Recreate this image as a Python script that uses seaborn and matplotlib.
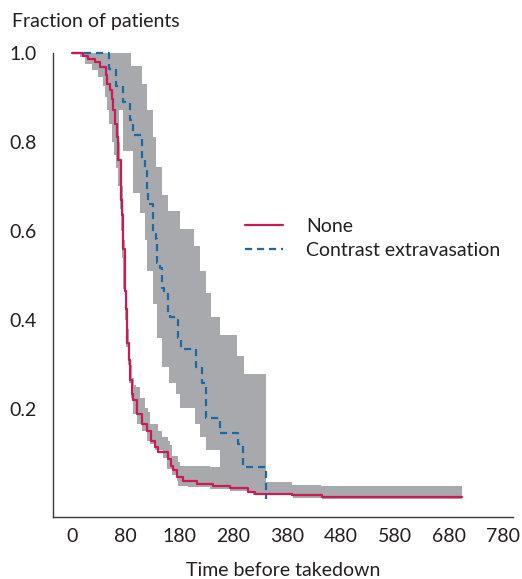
import numpy as np
import pandas as pd
import matplotlib
matplotlib.use("Agg")
import matplotlib.pyplot as plt
import seaborn as sns

# ---------------- data ----------------
x_tick_pos = [0, 100, 200, 300, 400, 500, 600, 700, 800]
x_tick_labels = ["0", "80", "180", "280", "380", "480", "580", "680", "780"]
y_tick_pos = [0.2, 0.4, 0.6, 0.8, 1.0]
y_tick_labels = ["0.2", "0.4", "0.6", "0.8", "1.0"]

series_names = ["None", "Contrast extravasation"]

# "None" group survival (step, post)
none_t = [0, 21, 30, 43, 52, 64, 66, 71, 75, 77, 80, 84, 86, 91, 93, 96, 98, 100, 102, 106,
          109, 112, 114, 121, 130, 139, 148, 155, 161, 179, 185, 188, 195, 207, 232, 263, 294,
          327, 340, 408, 464, 725]
none_s = [1.0, 0.993, 0.985, 0.978, 0.968, 0.95, 0.93, 0.915, 0.895, 0.87, 0.84, 0.81, 0.76,
          0.67, 0.635, 0.56, 0.466, 0.426, 0.348, 0.31, 0.265, 0.235, 0.22, 0.19, 0.167, 0.152,
          0.13, 0.115, 0.104, 0.089, 0.074, 0.063, 0.048, 0.040, 0.033, 0.029, 0.024, 0.014,
          0.010, 0.0075, 0.003, 0.003]
none_up_t = [0, 66, 72, 78, 82, 85, 87, 90, 93, 95, 97, 99, 101, 103, 106, 109, 112, 116, 119,
             127, 136, 142, 145, 161, 167, 179, 182, 186, 198, 201, 257, 275, 300, 408, 463, 725]
none_up = [1.0, 0.99, 0.97, 0.95, 0.92, 0.88, 0.80, 0.76, 0.70, 0.64, 0.58, 0.50, 0.44, 0.38,
           0.34, 0.30, 0.27, 0.255, 0.249, 0.226, 0.204, 0.193, 0.168, 0.152, 0.137, 0.13, 0.119,
           0.096, 0.081, 0.074, 0.07, 0.063, 0.037, 0.031, 0.029, 0.029]
none_lo_t = [0, 15, 25, 38, 48, 58, 62, 66, 70, 74, 78, 83, 85, 89, 91, 94, 96, 98, 100, 104,
             107, 110, 114, 121, 130, 139, 145, 155, 170, 176, 186, 195, 198, 216, 257, 294, 331,
             337, 410, 464, 725]
none_lo = [1.0, 0.99, 0.975, 0.96, 0.945, 0.925, 0.90, 0.87, 0.84, 0.80, 0.77, 0.74, 0.70,
           0.65, 0.60, 0.54, 0.47, 0.40, 0.34, 0.30, 0.26, 0.225, 0.19, 0.168, 0.152, 0.13, 0.123,
           0.108, 0.092, 0.067, 0.052, 0.04, 0.029, 0.025, 0.022, 0.018, 0.016, 0.007, 0.002,
           0.0, 0.0]

# "Contrast extravasation" group survival
con_t = [0, 70, 82, 96, 108, 114, 130, 136, 139, 142, 151, 156, 159, 164, 167, 171, 179, 182,
         194, 198, 202, 230, 241, 250, 275, 309, 318, 360.5]
con_s = [1.0, 0.962, 0.926, 0.888, 0.848, 0.814, 0.76, 0.735, 0.69, 0.66, 0.594, 0.583, 0.527,
         0.518, 0.473, 0.46, 0.415, 0.406, 0.40, 0.36, 0.336, 0.294, 0.258, 0.18, 0.146, 0.123,
         0.07, 0.0]
con_up_t = [0, 110, 130, 139, 151, 156, 167, 179, 201, 227, 238, 250, 258, 275, 307, 320, 360.5]
con_up = [1.0, 0.97, 0.93, 0.87, 0.81, 0.743, 0.68, 0.645, 0.605, 0.567, 0.511, 0.46, 0.406,
          0.366, 0.32, 0.28, 0.28]
con_lo_t = [0, 40, 60, 80, 96, 114, 127, 136, 139, 151, 158, 167, 181, 193, 201, 229, 238, 250,
            275, 300, 360.5]
con_lo = [1.0, 0.97, 0.93, 0.87, 0.78, 0.684, 0.64, 0.58, 0.51, 0.437, 0.36, 0.294, 0.258,
          0.235, 0.204, 0.168, 0.137, 0.108, 0.063, 0.03, 0.0]

# ---------------- style ----------------
RED = "#cc1a55"
BLUE = "#1b6aa5"
GREY = "#a7a9ac"
TXT = "#231f20"

sns.set_style("white")
plt.rcParams["font.family"] = ["Lato", "DejaVu Sans"]
plt.rcParams["text.color"] = TXT
plt.rcParams["axes.labelcolor"] = TXT
plt.rcParams["xtick.color"] = TXT
plt.rcParams["ytick.color"] = TXT

FS = 14

fig = plt.figure(figsize=(5.22, 5.79), dpi=100)
ax = fig.add_axes([53 / 522, 1 - 517.3 / 579, (513 - 53) / 522, (517.3 - 52.5) / 579])


def draw_band(t_lo, lo, t_up, up):
    t_lo = np.asarray(t_lo, float)
    t_up = np.asarray(t_up, float)
    grid = np.union1d(t_lo, t_up)
    lo_v = np.asarray(lo)[np.clip(np.searchsorted(t_lo, grid, side="right") - 1, 0, None)]
    up_v = np.asarray(up)[np.clip(np.searchsorted(t_up, grid, side="right") - 1, 0, None)]
    ax.fill_between(grid, lo_v, up_v, step="post", color=GREY, lw=0, zorder=1)


draw_band(none_lo_t, none_lo, none_up_t, none_up)
draw_band(con_lo_t, con_lo, con_up_t, con_up)

df_con = pd.DataFrame({"t": con_t, "s": con_s})
df_none = pd.DataFrame({"t": none_t, "s": none_s})

sns.lineplot(data=df_con, x="t", y="s", ax=ax, color=BLUE, lw=1.6, drawstyle="steps-post",
             linestyle=(0, (3.2, 2.2)), estimator=None, sort=False, label=series_names[1],
             zorder=3, clip_on=False)
sns.lineplot(data=df_none, x="t", y="s", ax=ax, color=RED, lw=1.6, drawstyle="steps-post",
             estimator=None, sort=False, label=series_names[0], zorder=4, clip_on=False)

ax.set_xlim(-34.7, 818.7)
ax.set_ylim(-0.042, 1.0)
ax.set_xticks(x_tick_pos)
ax.set_xticklabels(x_tick_labels)
ax.set_yticks(y_tick_pos)
ax.set_yticklabels(y_tick_labels)
ax.tick_params(axis="x", length=0, pad=8, labelsize=FS)
ax.tick_params(axis="y", direction="inout", length=18, width=1.0, pad=2.5, labelsize=FS,
               color="#3a3a3a")
ax.set_xlabel("Time before takedown", fontsize=FS, labelpad=12)
ax.set_ylabel("")
for side in ["top", "right"]:
    ax.spines[side].set_visible(False)
for side in ["left", "bottom"]:
    ax.spines[side].set_color("#3a3a3a")
    ax.spines[side].set_linewidth(1.0)

fig.text(12 / 522, 1 - 22 / 579, "Fraction of patients", fontsize=FS, ha="left", va="center")

handles, labels = ax.get_legend_handles_labels()
order = [labels.index(n) for n in series_names]
leg = ax.legend([handles[i] for i in order], [labels[i] for i in order],
                loc="upper left", bbox_to_anchor=(245 / 522, 1 - 218 / 579),
                bbox_transform=fig.transFigure, frameon=False, fontsize=FS,
                handlelength=1.95, handletextpad=1.2, labelspacing=0.35,
                borderpad=0, borderaxespad=0)

fig.savefig("out.png", dpi=100)
